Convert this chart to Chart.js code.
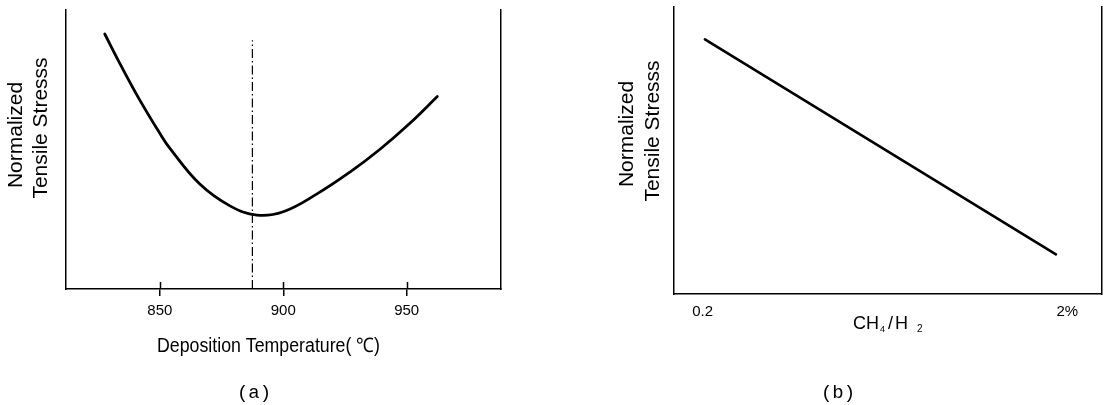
<!DOCTYPE html>
<html><head><meta charset="utf-8">
<script src="https://cdn.jsdelivr.net/npm/chart.js@4.4.1/dist/chart.umd.min.js"></script>
<style>
html,body{margin:0;padding:0;background:#fff;}
#wrap{position:relative;width:1105px;height:405px;overflow:hidden;background:#fff}
#boxA{position:absolute;left:0;top:0;width:552px;height:405px}
#boxB{position:absolute;left:552px;top:0;width:553px;height:405px}
</style></head><body>
<div id="wrap"><div id="boxA"><canvas id="cA"></canvas></div><div id="boxB"><canvas id="cB"></canvas></div></div>
<script>
// ---- data ----
const tempA   = [827.7, 834.5, 841.9, 850.0, 854.1, 866.2, 878.4, 889.3, 900.0, 913.5, 927.0, 939.2, 951.3, 962.4];
const stressA = [91.4, 79.7, 67.7, 55.8, 50.4, 37.6, 29.8, 26.5, 27.7, 34.0, 41.9, 50.1, 59.4, 69.0];
const markerTempA   = [887.5, 887.5];
const markerStressA = [0, 89.2];
const tickValuesA = [850, 900, 950];
const ratioB  = [0.211, 1.944];
const stressB = [88.7, 13.8];
const tickValuesB = [0.2, 2];
const tickLabelsB = ['0.2', '2%'];
const yTitleLines = ['Normalized', 'Tensile Stresss'];
const xTitleA = 'Deposition Temperature( \u2103)';
const xTitleB = ['CH', '4', '/', 'H', '2'];
const captionA = '(a)';
const captionB = '(b)';

const SANS = '"Liberation Sans", Arial, sans-serif';
const MONO = '"Liberation Mono", "DejaVu Sans Mono", monospace';

function rotText(ctx, text, baseX, centerY, font) {
  ctx.save();
  ctx.translate(baseX, centerY);
  ctx.rotate(-Math.PI / 2);
  ctx.font = font; ctx.fillStyle = '#000';
  ctx.textAlign = 'center'; ctx.textBaseline = 'alphabetic';
  ctx.fillText(text, 0, 0);
  ctx.restore();
}
function text(ctx, t, x, y, font, align) {
  ctx.save();
  ctx.font = font; ctx.fillStyle = '#000';
  ctx.textAlign = align || 'left'; ctx.textBaseline = 'alphabetic';
  ctx.fillText(t, x, y);
  ctx.restore();
}
function fitText(ctx, t, x, y, font, width) {
  ctx.save();
  ctx.font = font; ctx.fillStyle = '#000';
  ctx.textAlign = 'left'; ctx.textBaseline = 'alphabetic';
  const w = ctx.measureText(t).width;
  ctx.translate(x, y);
  ctx.scale(width / w, 1);
  ctx.fillText(t, 0, 0);
  ctx.restore();
}

const innerTicks = {
  id: 'innerTicks',
  afterDraw(chart) {
    const s = chart.scales.x, ctx = chart.ctx, b = chart.chartArea.bottom;
    ctx.save(); ctx.strokeStyle = '#000'; ctx.lineWidth = 1.5;
    s.ticks.forEach(t => {
      const px = Math.round(s.getPixelForValue(t.value)) + 0.5;
      ctx.beginPath(); ctx.moveTo(px, b - 7); ctx.lineTo(px, b); ctx.stroke();
    });
    ctx.restore();
  }
};

const textA = {
  id: 'textA',
  afterDraw(chart) {
    const ctx = chart.ctx;
    rotText(ctx, yTitleLines[0], 22, 135, '21px ' + SANS);
    rotText(ctx, yTitleLines[1], 46.5, 128, '21px ' + SANS);
    fitText(ctx, xTitleA, 157, 352, '20px ' + SANS, 223);
    text(ctx, captionA, 254, 397.5, '19px ' + MONO, 'center');
  }
};
const textB = {
  id: 'textB',
  afterDraw(chart) {
    const ctx = chart.ctx;
    rotText(ctx, yTitleLines[0], 633 - 552, 134, '21px ' + SANS);
    rotText(ctx, yTitleLines[1], 659 - 552, 131, '21px ' + SANS);
    text(ctx, xTitleB[0], 853 - 552, 328.5, '18px ' + SANS);
    text(ctx, xTitleB[1], 880 - 552, 332, '9px ' + SANS);
    text(ctx, xTitleB[2], 888 - 552, 328.5, '18px ' + SANS);
    text(ctx, xTitleB[3], 895 - 552, 328.5, '18px ' + SANS);
    text(ctx, xTitleB[4], 917 - 552, 332, '10px ' + SANS);
    text(ctx, captionB, 838 - 552, 397.5, '19px ' + MONO, 'center');
  }
};

const common = {
  responsive: true, maintainAspectRatio: false, animation: false, devicePixelRatio: 1,
  plugins: { legend: { display: false }, tooltip: { enabled: false } },
  elements: { point: { radius: 0 } }
};
const sideAxis = (pos, w) => ({
  type: 'linear', position: pos, min: 0, max: 100,
  afterFit: s => { s.width = w; },
  grid: { display: false }, ticks: { display: false },
  border: { display: true, color: '#000', width: 1.5 }
});

new Chart(document.getElementById('cA'), {
  type: 'line',
  data: { datasets: [
    { data: tempA.map((t, i) => ({ x: t, y: stressA[i] })), borderColor: '#000', borderWidth: 2.8,
      tension: 0.4, fill: false, borderCapStyle: 'round', borderJoinStyle: 'round' },
    { data: markerTempA.map((t, i) => ({ x: t, y: markerStressA[i] })), borderColor: '#000', borderWidth: 1.2,
      borderDash: [9, 3, 1.5, 3], fill: false }
  ]},
  options: Object.assign({}, common, {
    layout: { padding: { left: 0, right: 51.5, top: 10, bottom: 0 } },
    scales: {
      x: { type: 'linear', min: 812, max: 988,
        afterBuildTicks: s => { s.ticks = tickValuesA.map(v => ({ value: v })); },
        afterFit: s => { s.height = 116; },
        grid: { display: true, drawOnChartArea: false, drawTicks: true, tickLength: 7, color: '#000', lineWidth: 1.5 },
        border: { display: true, color: '#000', width: 1.5 },
        ticks: { color: '#000', font: { family: SANS, size: 15 }, padding: 6, maxRotation: 0, autoSkip: false } },
      y: sideAxis('left', 66),
      y2: sideAxis('right', 0)
    }
  }),
  plugins: [innerTicks, textA]
});

new Chart(document.getElementById('cB'), {
  type: 'line',
  data: { datasets: [
    { data: ratioB.map((r, i) => ({ x: r, y: stressB[i] })), borderColor: '#000', borderWidth: 2.6,
      fill: false, borderCapStyle: 'round' }
  ]},
  options: Object.assign({}, common, {
    layout: { padding: { left: 0, right: 3.3, top: 7, bottom: 0 } },
    scales: {
      x: { type: 'linear', min: 0.0583, max: 2.170,
        afterBuildTicks: s => { s.ticks = tickValuesB.map(v => ({ value: v })); },
        afterFit: s => { s.height = 111; },
        grid: { display: false, drawTicks: false },
        border: { display: true, color: '#000', width: 1.5 },
        ticks: { color: '#000', font: { family: SANS, size: 15 }, padding: 9, maxRotation: 0, autoSkip: false,
          callback: (v, i) => tickLabelsB[i] } },
      y: sideAxis('left', 122),
      y2: sideAxis('right', 0)
    }
  }),
  plugins: [textB]
});
</script>
</body></html>
